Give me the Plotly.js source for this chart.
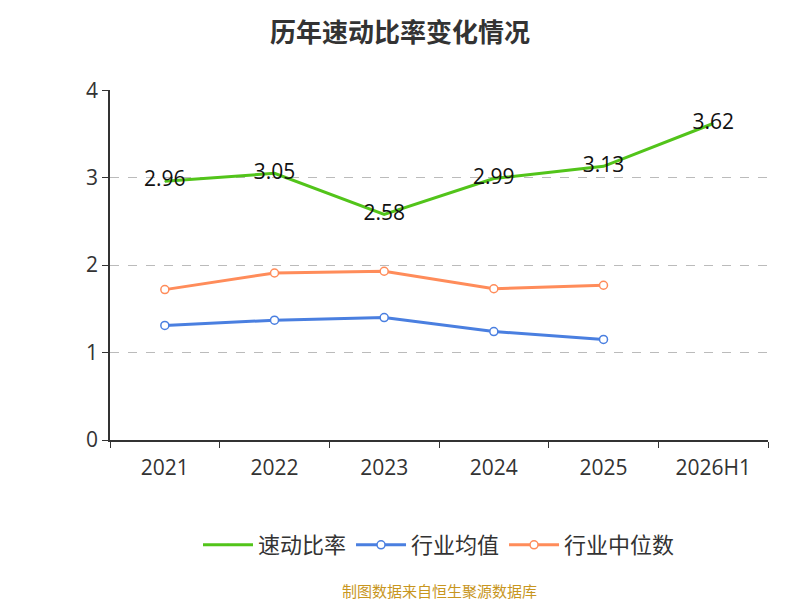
<!DOCTYPE html>
<html><head><meta charset="utf-8">
<script src="https://cdn.plot.ly/plotly-3.0.1.min.js"></script>
<style>body{margin:0}</style></head>
<body><div id="c" style="width:800px;height:600px"></div>
<script>
const categories=["2021","2022","2023","2024","2025","2026H1"];
const quickRatio=[2.96,3.05,2.58,2.99,3.13,3.62];
const industryAvg=[1.31,1.37,1.40,1.24,1.15];
const industryMedian=[1.72,1.91,1.93,1.73,1.77];
const font="Open Sans, Noto Sans CJK SC, sans-serif";
const traces=[
{x:categories,y:quickRatio,name:"速动比率",mode:"lines+markers+text",text:quickRatio.map(v=>v.toFixed(2)),textposition:"middle center",textfont:{size:21,color:"#111"},line:{color:"#52c41a",width:3},marker:{size:1,color:"#52c41a",line:{width:0}}},
{x:categories.slice(0,5),y:industryAvg,name:"行业均值",mode:"lines+markers",line:{color:"#4a7fe0",width:3},marker:{size:8,color:"#fff",line:{color:"#4a7fe0",width:1.5}}},
{x:categories.slice(0,5),y:industryMedian,name:"行业中位数",mode:"lines+markers",line:{color:"#ff8c5a",width:3},marker:{size:8,color:"#fff",line:{color:"#ff8c5a",width:1.5}}}
];
const layout={width:800,height:600,margin:{l:110,r:32,t:90,b:160},paper_bgcolor:"#fff",plot_bgcolor:"#fff",
font:{family:font,color:"#333"},showlegend:true,
title:{text:"<b>历年速动比率变化情况</b>",x:0.5,y:0.96,font:{size:26,color:"#333"}},
xaxis:{type:"category",range:[-0.5,5.5],showline:true,linecolor:"#333",linewidth:1.5,ticks:"outside",ticklen:6,tickcolor:"#333",tickfont:{size:21},ticklabelstandoff:8,showgrid:false,tickson:"boundaries"},
yaxis:{range:[0,4.003],dtick:1,showline:true,linecolor:"#333",linewidth:1.5,ticks:"outside",ticklen:6,tickcolor:"#333",tickfont:{size:21},gridcolor:"#bbb",griddash:"dash",zeroline:false},
legend:{orientation:"h",x:0.5,xanchor:"center",y:-0.24,yanchor:"top",font:{size:22},itemwidth:50},
annotations:[{text:"制图数据来自恒生聚源数据库",xref:"paper",yref:"paper",x:0.5,y:-0.43,yanchor:"middle",showarrow:false,font:{size:15,color:"#c8961e"}}]
};
Plotly.newPlot("c",traces,layout,{displayModeBar:false});
</script></body></html>
